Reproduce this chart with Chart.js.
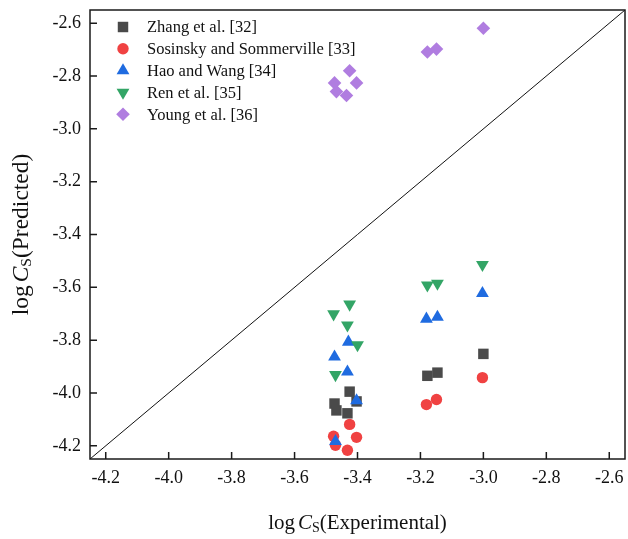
<!DOCTYPE html>
<html><head><meta charset="utf-8">
<script src="https://cdn.jsdelivr.net/npm/chart.js@4"></script>
<style>html,body{margin:0;padding:0;background:#fff}</style>
</head><body>
<canvas id="c" width="628" height="539"></canvas>
<script>
// ---- data ----
const seriesNames = ["Zhang et al. [32]", "Sosinsky and Sommerville [33]", "Hao and Wang [34]", "Ren et al. [35]", "Young et al. [36]"];
const zhangX = [-3.473, -3.467, -3.425, -3.432, -3.403, -3.178, -3.146, -3.000];
const zhangY = [-4.040, -4.066, -3.995, -4.077, -4.032, -3.935, -3.923, -3.852];
const sosinskyX = [-3.476, -3.470, -3.425, -3.432, -3.403, -3.181, -3.149, -3.003];
const sosinskyY = [-4.164, -4.198, -4.119, -4.217, -4.168, -4.044, -4.025, -3.942];
const haoX = [-3.473, -3.470, -3.429, -3.432, -3.403, -3.181, -3.146, -3.003];
const haoY = [-3.863, -4.183, -3.807, -3.920, -4.029, -3.720, -3.713, -3.623];
const renX = [-3.476, -3.470, -3.425, -3.432, -3.400, -3.178, -3.146, -3.003];
const renY = [-3.701, -3.931, -3.664, -3.743, -3.818, -3.592, -3.585, -3.514];
const youngX = [-3.473, -3.467, -3.425, -3.435, -3.403, -3.178, -3.149, -3.000];
const youngY = [-2.826, -2.859, -2.780, -2.874, -2.826, -2.709, -2.698, -2.619];
const xTicks = [-4.2, -4.0, -3.8, -3.6, -3.4, -3.2, -3.0, -2.8, -2.6];
const yTicks = [-4.2, -4.0, -3.8, -3.6, -3.4, -3.2, -3.0, -2.8, -2.6];
const axisMin = -4.25, axisMax = -2.55;

const pts = (xs, ys) => xs.map((x, i) => ({x, y: ys[i]}));
const styles = [
  {color: '#4a4a4a', pointStyle: 'rect', radius: 7.4, rotation: 0},
  {color: '#f04242', pointStyle: 'circle', radius: 5.7, rotation: 0},
  {color: '#1f6be0', pointStyle: 'triangle', radius: 7.4, rotation: 0},
  {color: '#33a566', pointStyle: 'triangle', radius: 7.4, rotation: 180},
  {color: '#b07de0', pointStyle: 'rectRot', radius: 6.8, rotation: 0}
];
const seriesData = [pts(zhangX, zhangY), pts(sosinskyX, sosinskyY), pts(haoX, haoY), pts(renX, renY), pts(youngX, youngY)];

const datasets = seriesData.map((d, i) => ({
  type: 'scatter', label: seriesNames[i], data: d, order: 5 - i,
  pointStyle: styles[i].pointStyle, pointRadius: styles[i].radius, pointHoverRadius: styles[i].radius,
  pointRotation: styles[i].rotation, backgroundColor: styles[i].color, borderWidth: 0, borderColor: styles[i].color
}));
datasets.push({
  type: 'line', label: 'y=x', data: [{x: axisMin, y: axisMin}, {x: axisMax, y: axisMax}],
  borderColor: '#111', borderWidth: 1, pointRadius: 0, order: 10, fill: false
});

const SERIF = '"Liberation Serif", "Times New Roman", serif';

function drawRich(ctx, parts, cx, cy, rot) {
  ctx.save();
  ctx.translate(cx, cy);
  if (rot) ctx.rotate(rot);
  let total = 0;
  parts.forEach(p => { ctx.font = p.font; p.w = ctx.measureText(p.t).width + (p.gap || 0); total += p.w; });
  let x = -total / 2;
  ctx.textBaseline = 'middle';
  ctx.textAlign = 'left';
  ctx.fillStyle = '#111';
  parts.forEach(p => { ctx.font = p.font; ctx.fillText(p.t, x, p.dy || 0); x += p.w; });
  ctx.restore();
}

const decor = {
  id: 'decor',
  afterDatasetsDraw(chart) {
    const ctx = chart.ctx, a = chart.chartArea, xs = chart.scales.x, ys = chart.scales.y;
    ctx.save();
    ctx.strokeStyle = '#1a1a1a';
    ctx.lineWidth = 1.5;
    ctx.beginPath();
    xTicks.forEach(v => { const p = xs.getPixelForValue(v); ctx.moveTo(p, a.bottom); ctx.lineTo(p, a.bottom - 7); });
    yTicks.forEach(v => { const p = ys.getPixelForValue(v); ctx.moveTo(a.left, p); ctx.lineTo(a.left + 7, p); });
    ctx.stroke();
    ctx.strokeRect(a.left, a.top, a.right - a.left, a.bottom - a.top);
    // legend
    const lx = a.left + 33, ly0 = a.top + 17, dy = 21.8;
    seriesNames.forEach((n, i) => {
      const y = ly0 + i * dy;
      ctx.fillStyle = styles[i].color;
      Chart.helpers.drawPoint(ctx, {pointStyle: styles[i].pointStyle, radius: styles[i].radius, rotation: styles[i].rotation, borderWidth: 0}, lx, y);
      ctx.fillStyle = '#111';
      ctx.font = '16.5px ' + SERIF;
      ctx.textBaseline = 'middle';
      ctx.textAlign = 'left';
      ctx.fillText(n, lx + 24, y + 1);
    });
    ctx.restore();
    // axis titles
    const big = '21px ' + SERIF, ital = 'italic 21px ' + SERIF, sub = '14px ' + SERIF;
    drawRich(ctx, [
      {t: 'log', font: big, gap: 3}, {t: 'C', font: ital}, {t: 'S', font: sub, dy: 5},
      {t: '(Experimental)', font: big}
    ], (a.left + a.right) / 2, 523, 0);
    const bigY = '23.5px ' + SERIF, italY = 'italic 23.5px ' + SERIF, subY = '15.5px ' + SERIF;
    drawRich(ctx, [
      {t: 'log', font: bigY, gap: 3}, {t: 'C', font: italY}, {t: 'S', font: subY, dy: 5},
      {t: '(Predicted)', font: bigY}
    ], 22, (a.top + a.bottom) / 2, -Math.PI / 2);
  }
};

new Chart(document.getElementById('c'), {
  data: {datasets},
  options: {
    responsive: false, animation: false,
    layout: {autoPadding: false, padding: {left: 0, right: 3, top: 10, bottom: 0}},
    plugins: {legend: {display: false}, tooltip: {enabled: false}},
    scales: {
      x: {
        type: 'linear', min: axisMin, max: axisMax,
        afterBuildTicks: s => { s.ticks = xTicks.map(v => ({value: v})); },
        afterFit: s => { s.height = 80; s.paddingLeft = 0; s.paddingRight = 0; },
        grid: {display: false, drawTicks: false},
        border: {display: false},
        ticks: {padding: 8, color: '#111', font: {family: SERIF, size: 18}, callback: v => Number(v).toFixed(1)}
      },
      y: {
        type: 'linear', min: axisMin, max: axisMax,
        afterBuildTicks: s => { s.ticks = yTicks.map(v => ({value: v})); },
        afterFit: s => { s.width = 90; s.paddingTop = 0; s.paddingBottom = 0; },
        grid: {display: false, drawTicks: false},
        border: {display: false},
        ticks: {padding: 9, color: '#111', font: {family: SERIF, size: 18}, callback: v => Number(v).toFixed(1)}
      }
    }
  },
  plugins: [decor]
});
</script>
</body></html>
